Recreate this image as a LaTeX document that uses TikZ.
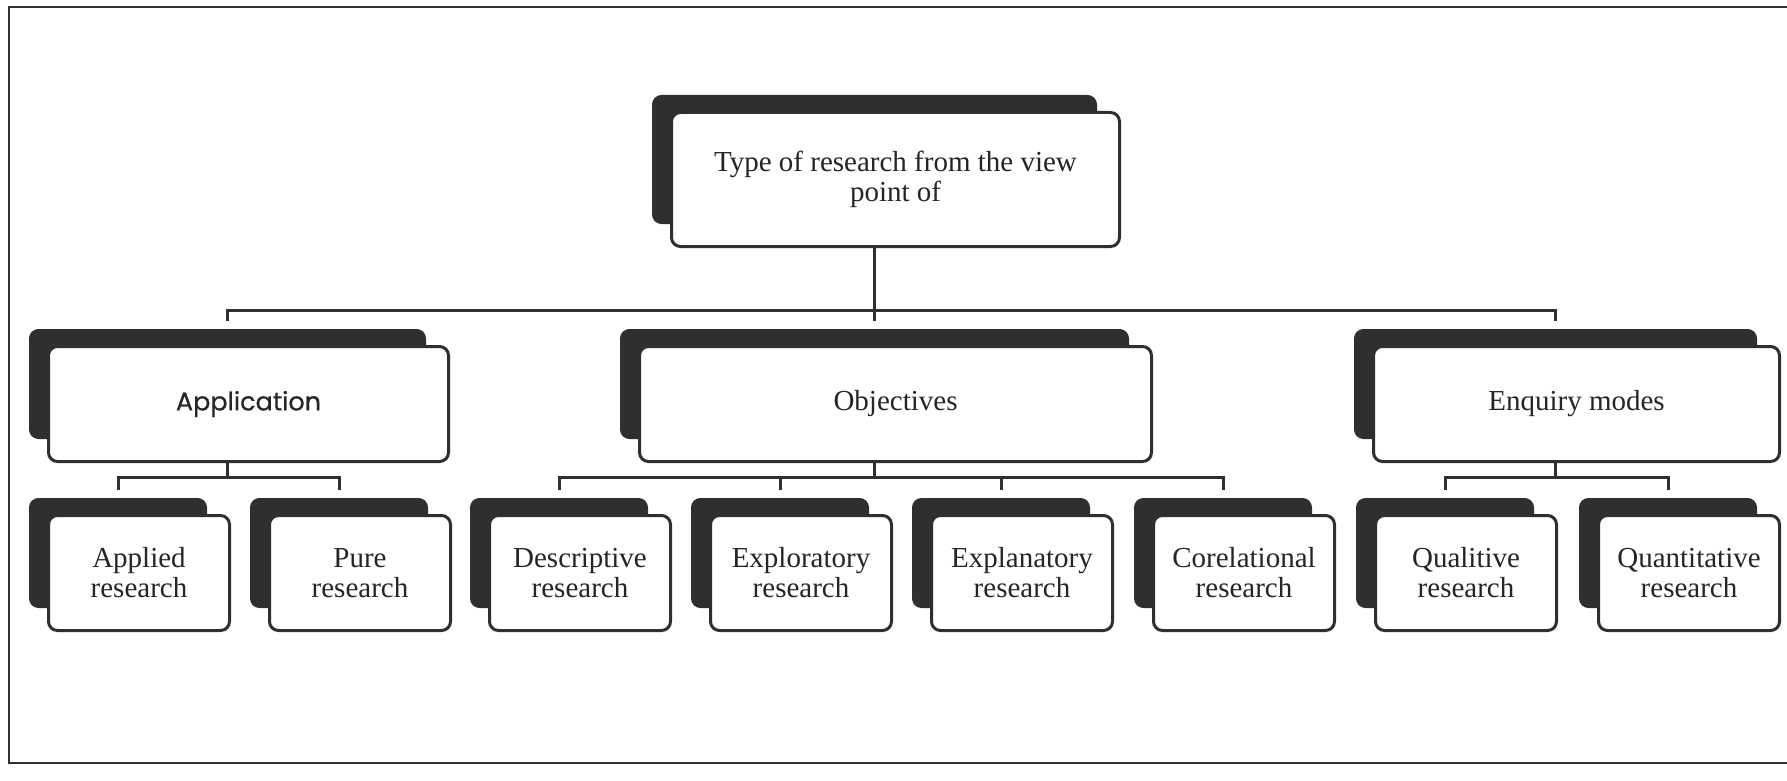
\documentclass[tikz,border=0pt]{standalone}
\usepackage{fontspec}
\setmainfont{Liberation Serif}
\newfontfamily\appfont[FakeBold=0.6]{Poppins}
\definecolor{ink}{HTML}{2F2F2F}
\tikzset{
  x=1pt, y=-1pt,
  mainbox/.style={draw=ink, line width=3pt, rounded corners=9pt, fill=white,
    inner sep=0pt, align=center, anchor=north west, text=ink!80!black,
    font=\fontsize{29}{30}\selectfont},
  shadebox/.style={draw=ink, fill=ink, line width=1pt, rounded corners=9pt,
    inner sep=0pt, anchor=north west},
  conn/.style={draw=ink, line width=3pt, line join=miter},
  frameline/.style={draw=ink, line width=2pt},
}
% name, left, top, right, bottom, text
\newcommand\dblbox[6]{%
  \node[shadebox, minimum width={(#4)-(#2)-4}, minimum height={(#5)-(#3)-6}]
    (#1S) at ({(#2)-18},{(#3)-16}) {};
  \node[mainbox, minimum width={(#4)-(#2)}, minimum height={(#5)-(#3)}]
    (#1) at (#2,#3) {#6};
}
\begin{document}
\begin{tikzpicture}
\useasboundingbox (0,0) rectangle (1787,781);
% frame
\draw[frameline] (1787,7) -- (9,7) -- (9,763) -- (1787,763);

% top
\dblbox{top}{670}{111}{1118}{245}{\fontsize{29}{26}\selectfont Type of research from the view\\point of}

% parents
\dblbox{app}{47}{345}{447}{460}{\appfont\fontsize{25.5}{28}\selectfont Application}
\dblbox{obj}{638}{345}{1150}{460}{Objectives}
\dblbox{enq}{1372}{345}{1778}{460}{Enquiry modes}

% children
\dblbox{c1}{47}{514}{228}{629}{Applied\\research}
\dblbox{c2}{268}{514}{449}{629}{Pure\\research}
\dblbox{c3}{488}{514}{669}{629}{Descriptive\\research}
\dblbox{c4}{709}{514}{890}{629}{Exploratory\\research}
\dblbox{c5}{930}{514}{1111}{629}{Explanatory\\research}
\dblbox{c6}{1152}{514}{1333}{629}{Corelational\\research}
\dblbox{c7}{1374}{514}{1555}{629}{Qualitive\\research}
\dblbox{c8}{1597}{514}{1778}{629}{Quantitative\\research}

\coordinate (bar1) at (0,310);
\coordinate (bar2) at (0,477);

% level 1 connectors
\draw[conn] (topS.center |- top.south) -- (topS.center |- bar1);
\draw[conn] ([yshift=8pt]appS.north) -- (appS.north |- bar1) -- (enqS.north |- bar1) -- ([yshift=8pt]enqS.north);
\draw[conn] (objS.north |- bar1) -- ([yshift=8pt]objS.north);

% level 2 connectors
\draw[conn] (appS.center |- app.south) -- (appS.center |- bar2);
\draw[conn] ([yshift=8pt]c1S.north) -- (c1S.north |- bar2) -- (c2S.north |- bar2) -- ([yshift=8pt]c2S.north);

\draw[conn] (objS.center |- obj.south) -- (objS.center |- bar2);
\draw[conn] ([yshift=8pt]c3S.north) -- (c3S.north |- bar2) -- (c6S.north |- bar2) -- ([yshift=8pt]c6S.north);
\draw[conn] (c4S.north |- bar2) -- ([yshift=8pt]c4S.north);
\draw[conn] (c5S.north |- bar2) -- ([yshift=8pt]c5S.north);

\draw[conn] (enqS.center |- enq.south) -- (enqS.center |- bar2);
\draw[conn] ([yshift=8pt]c7S.north) -- (c7S.north |- bar2) -- (c8S.north |- bar2) -- ([yshift=8pt]c8S.north);
\end{tikzpicture}
\end{document}
